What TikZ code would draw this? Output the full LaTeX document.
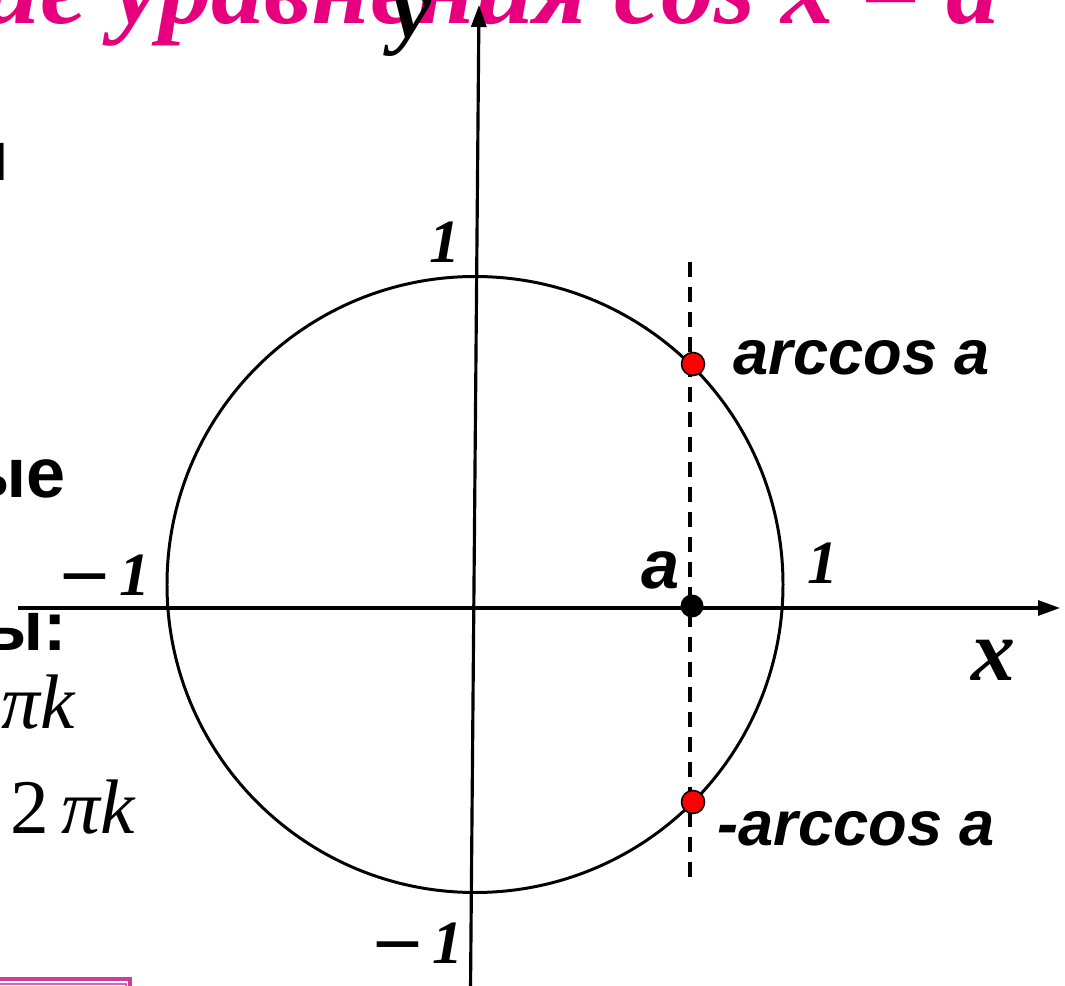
\documentclass[tikz,border=0pt]{standalone}
\usepackage{fontspec}
\setmainfont{Liberation Serif}
\newfontfamily\labelfont{Liberation Sans}
\definecolor{titlepink}{RGB}{230,0,126}
\definecolor{btnpink}{RGB}{206,60,160}
\usetikzlibrary{arrows.meta,positioning}

\begin{document}
\begin{tikzpicture}[x=0.02cm,y=-0.02cm,
  axis/.style={line width=1.8pt,-{Triangle[length=0.44cm,width=0.3cm]}},
  curve/.style={line width=1.7pt},
  guide/.style={line width=1.9pt,dash pattern=on 0.3cm off 0.2cm},
  reddot/.style={circle,draw=black,line width=0.9pt,fill=red,inner sep=0pt,minimum size=0.46cm},
  blackdot/.style={circle,fill=black,inner sep=0pt,minimum size=0.46cm},
  lab/.style={inner sep=0pt,font=\labelfont\bfseries\itshape\fontsize{36}{40}\selectfont},
  num/.style={inner sep=0pt,font=\bfseries\itshape\fontsize{35}{38}\selectfont},
  axlab/.style={inner sep=0pt,font=\bfseries\itshape\fontsize{50}{54}\selectfont},
  cut/.style={inner sep=0pt,font=\labelfont\bfseries\fontsize{40}{44}\selectfont},
  formula/.style={inner sep=0pt,font=\fontsize{44}{48}\selectfont}]
  \useasboundingbox (0,0) rectangle (1065,986);
  \clip (0,0) rectangle (1065,986);
  % Slide title, cut off by the frame
  \node[anchor=base east,inner sep=0pt,text=titlepink,
        font=\bfseries\itshape\fontsize{60}{64}\selectfont] (title) at (1000,24)
        {Решение уравнения cos x = a};
  % Left column text, cut off by the frame
  \node[cut,anchor=base east] (txt1) at (9,181) {н};
  \node[cut,anchor=base east] (txt2) at (66,498) {ые};
  \node[cut,anchor=base east] (txt3) at (67,650) {ы:};
  \node[formula,anchor=base east] (frm1) at (76,728) {2\,\textit{πk}};
  \node[formula,anchor=base west] (frm2) at (10,833) {2\,\textit{πk}};
  % Button edge
  \draw[btnpink,line width=2pt] (-5,979) -- (130,979) -- (130,1000);
  \draw[btnpink!80,line width=1.3pt] (-5,984) -- (126,984) -- (126,1000);
  % Axes
  \coordinate (xl) at (18,608);
  \coordinate (xr) at (1060,608);
  \coordinate (yb) at (470.5,990);
  \coordinate (yt) at (479,5);
  \draw[axis] (xl) -- (xr);
  \draw[axis] (yb) -- (yt);
  \node[axlab,anchor=base] (xname) at (993,680) {x};
  \node[axlab,anchor=base] (yname) at (412,38) {y};
  % Unit circle
  \coordinate (O) at (475,584.5);
  \draw[curve] (O) circle[radius=308];
  \node[num,anchor=base] (one1) at (445,263) {1};
  \node[num,anchor=base] (one2) at (823,583) {1};
  \node[num,anchor=base] (mone1) at (108,595) {{\fontsize{46}{50}\selectfont –}\hspace{0.28cm}1};
  \node[num,anchor=base] (mone2) at (421,963) {{\fontsize{46}{50}\selectfont –}\hspace{0.28cm}1};
  % Line x = a and its points
  \coordinate (gt) at (690,262);
  \coordinate (gb) at (690,882);
  \draw[guide] (gt) -- (gb);
  \node[blackdot] (pa) at (692,606) {};
  \node[reddot] (p1) at (693,364) {};
  \node[reddot] (p2) at (693,802) {};
  \node[lab,anchor=base west,font=\labelfont\bfseries\itshape\fontsize{39}{42}\selectfont] (aname) at (641,588) {a};
  \node[lab,anchor=base west] (l1) at (733,375) {arccos a};
  \node[lab,anchor=base west] (l2) at (717,845) {-arccos a};
\end{tikzpicture}
\end{document}
